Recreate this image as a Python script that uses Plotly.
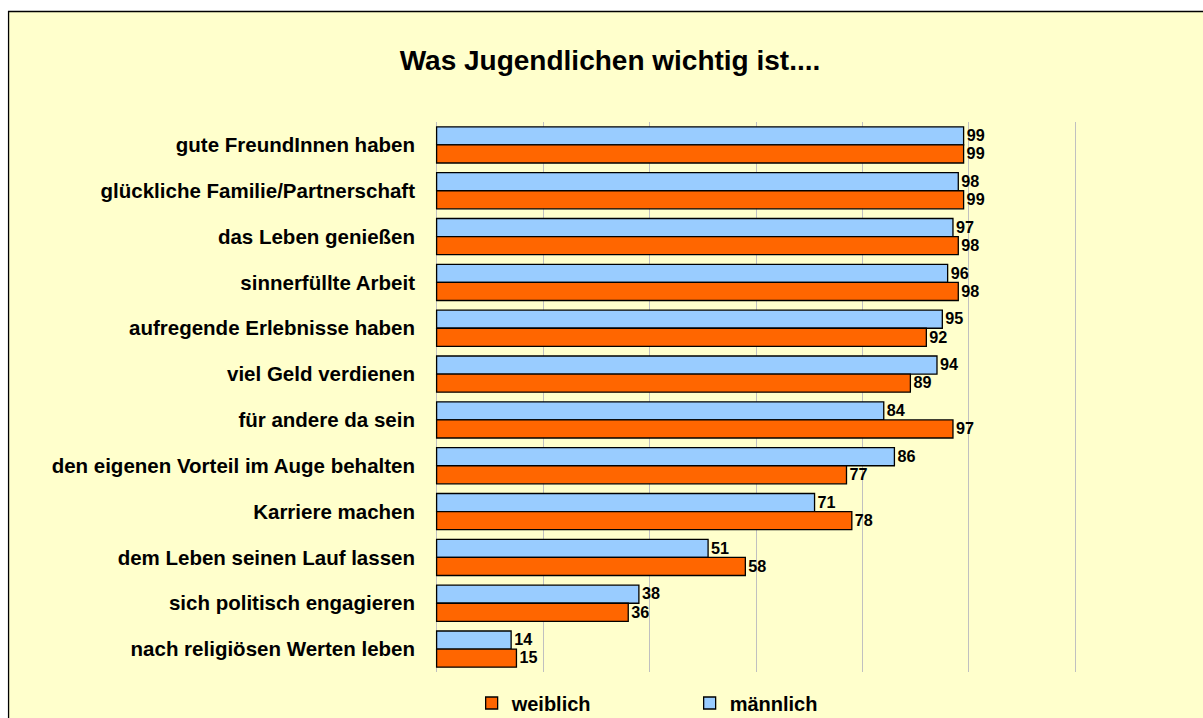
import plotly.graph_objects as go

categories = [
    "gute FreundInnen haben",
    "glückliche Familie/Partnerschaft",
    "das Leben genießen",
    "sinnerfüllte Arbeit",
    "aufregende Erlebnisse haben",
    "viel Geld verdienen",
    "für andere da sein",
    "den eigenen Vorteil im Auge behalten",
    "Karriere machen",
    "dem Leben seinen Lauf lassen",
    "sich politisch engagieren",
    "nach religiösen Werten leben",
]
maennlich = [99, 98, 97, 96, 95, 94, 84, 86, 71, 51, 38, 14]
weiblich = [99, 99, 98, 98, 92, 89, 97, 77, 78, 58, 36, 15]

FONT = "Liberation Sans, Arial, sans-serif"
W, H = 1203, 718
PAD_PX = 1.6
L, R, T, B = 437 - PAD_PX, 128 - PAD_PX, 122, 46
pw, ph = W - L - R, H - T - B
pad_units = PAD_PX * 120 / 638

def px_x(p):
    return (p - L) / pw

def px_y(p):
    return (H - B - p) / ph

fig = go.Figure()
fig.add_trace(go.Bar(
    y=categories, x=maennlich, name="<b>männlich</b>", orientation="h",
    marker=dict(color="#99CCFF", line=dict(color="#000000", width=1.3)),
    text=maennlich, texttemplate="<b>%{x}</b>", textposition="outside",
    cliponaxis=False,
    textfont=dict(family=FONT, size=17, color="#000000"),
))
fig.add_trace(go.Bar(
    y=categories, x=weiblich, name="<b>weiblich</b>", orientation="h",
    marker=dict(color="#FF6600", line=dict(color="#000000", width=1.3)),
    text=weiblich, texttemplate="<b>%{x}</b>", textposition="outside",
    cliponaxis=False,
    textfont=dict(family=FONT, size=17, color="#000000"),
))

fig.add_shape(
    type="rect", xref="paper", yref="paper",
    x0=px_x(9.5), x1=px_x(1230), y0=px_y(740), y1=px_y(11.5),
    fillcolor="#FFFFCC", line=dict(color="#000000", width=1.3), layer="below",
)

fig.update_layout(
    width=W, height=H,
    margin=dict(l=L, r=R, t=T, b=B, pad=0, autoexpand=False),
    paper_bgcolor="#FFFFFF",
    plot_bgcolor="rgba(0,0,0,0)",
    barmode="group",
    bargap=0.21,
    bargroupgap=0,
    title=dict(
        text="<b>Was Jugendlichen wichtig ist....</b>",
        font=dict(family=FONT, size=28, color="#000000"),
        x=610 / W, xanchor="center", xref="container",
        y=1 - 60 / H, yanchor="middle", yref="container",
    ),
    xaxis=dict(
        range=[-pad_units, 120 + pad_units], tick0=0, dtick=20,
        showticklabels=False, showgrid=True, gridcolor="#C0C0C0",
        gridwidth=1, zeroline=False, showline=False, fixedrange=True,
    ),
    yaxis=dict(
        autorange="reversed", showgrid=False, zeroline=False, showline=False,
        ticks="", ticklabelstandoff=19,
        tickfont=dict(family=FONT, size=20.5, color="#000000"),
        tickprefix="<b>", ticksuffix="</b>",
    ),
    legend=dict(
        orientation="h", traceorder="reversed",
        x=px_x(472), xanchor="left", y=px_y(703), yanchor="middle",
        font=dict(family=FONT, size=20, color="#000000"),
        bgcolor="rgba(0,0,0,0)", itemwidth=30,
        entrywidth=173, entrywidthmode="pixels",
    ),
    showlegend=True,
)

fig.write_html(
    "out.html",
    config={"displayModeBar": False},
    post_script="document.body.style.margin='0';document.body.style.overflow='hidden';",
)
